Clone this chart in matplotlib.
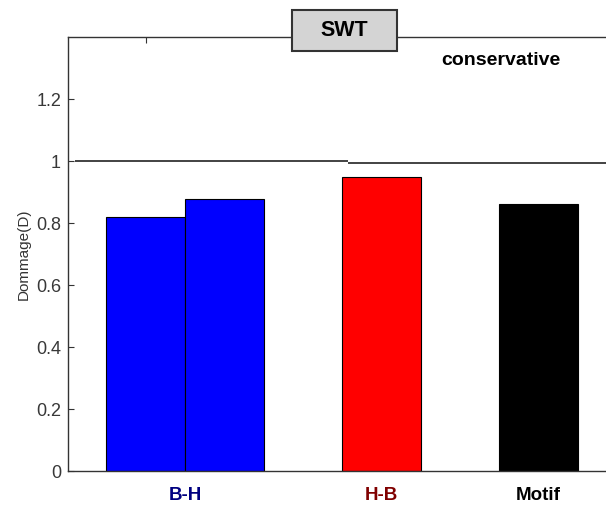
import matplotlib.pyplot as plt
from matplotlib.patches import Rectangle

# bar data
positions = [0, 1, 3, 5]
values = [0.82, 0.876, 0.949, 0.861]
bar_colors = ['#0000ff', '#0000ff', '#ff0000', '#000000']

group_labels = ['B-H', 'H-B', 'Motif']
group_pos = [0.5, 3, 5]
group_colors = ['#000080', '#800000', '#000000']

# reference line at D = 1
ref_levels = [1.0, 0.995]
ref_spans = [(-0.9, 2.57), (2.57, 5.86)]

plt.rcParams['font.family'] = ['Liberation Sans', 'DejaVu Sans']

W, H = 606, 505
fig = plt.figure(figsize=(W / 100, H / 100), dpi=100)
ax = fig.add_axes([68 / W, 34 / H, 538 / W, 434 / H])

ax.bar(positions, values, width=1.0, color=bar_colors,
       edgecolor='black', linewidth=0.8, zorder=2)

for lvl, (x0, x1) in zip(ref_levels, ref_spans):
    ax.hlines(lvl, x0, x1, color='#222222', linewidth=1.2, zorder=3)

ax.set_xlim(-0.99, 5.86)
ax.set_ylim(0, 1.4)
ax.set_yticks([0, 0.2, 0.4, 0.6, 0.8, 1, 1.2])
ax.set_yticklabels(['0', '0.2', '0.4', '0.6', '0.8', '1', '1.2'])
ax.set_xticks([0])
ax.set_xticklabels([''])
ax.tick_params(direction='in', length=4, width=0.8, top=True, right=False,
               labelsize=13, labelcolor='#383838', color='#333333')
ax.tick_params(axis='y', pad=5)

for name, spine in ax.spines.items():
    spine.set_color('#333333')
    spine.set_linewidth(1.0)
ax.spines['right'].set_visible(False)

ax.set_ylabel('Dommage(D)', fontsize=11, color='#333333', labelpad=4)

for lab, xp, c in zip(group_labels, group_pos, group_colors):
    ax.text(xp, -0.078, lab, ha='center', va='center', fontsize=13.5,
            fontweight='bold', color=c)

# title box
fig.patches.append(Rectangle((292 / W, 1 - 51 / H), 105 / W, 41 / H,
                             transform=fig.transFigure, facecolor='#d4d4d4',
                             edgecolor='#333333', linewidth=1.5, zorder=5))
fig.text(344 / W, 1 - 31 / H, 'SWT', ha='center', va='center',
         fontsize=15.5, fontweight='bold', zorder=6)
ax.text(0.805, 0.945, 'conservative', transform=ax.transAxes,
        ha='center', va='center', fontsize=14, fontweight='bold')

fig.savefig('out.png', dpi=100)
